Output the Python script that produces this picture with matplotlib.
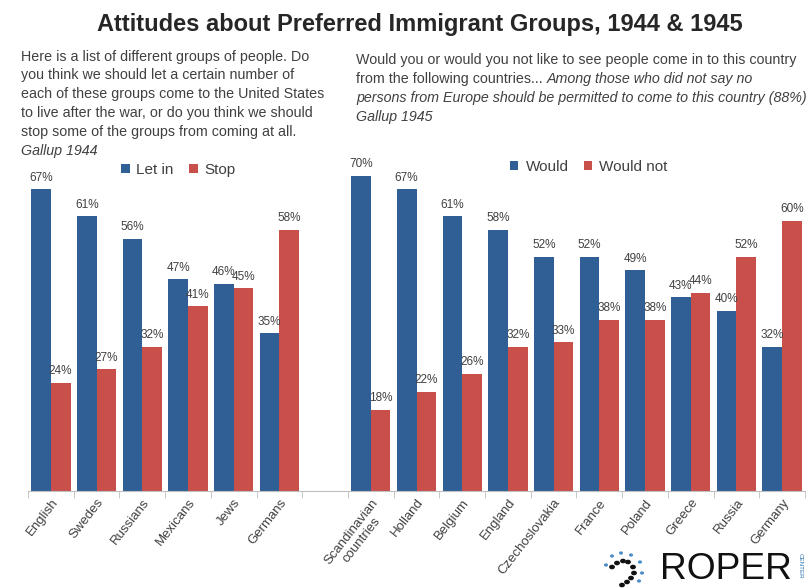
import matplotlib
matplotlib.use('Agg')
import matplotlib.pyplot as plt
import numpy as np
from matplotlib import font_manager
from matplotlib.patches import Circle

# ---------------- data ----------------
left_cats = ["English", "Swedes", "Russians", "Mexicans", "Jews", "Germans"]
left_letin = [67, 61, 56, 47, 46, 35]
left_stop = [24, 27, 32, 41, 45, 58]

right_cats = ["Scandinavian\ncountries", "Holland", "Belgium", "England", "Czechoslovakia",
              "France", "Poland", "Greece", "Russia", "Germany"]
right_would = [70, 67, 61, 58, 52, 52, 49, 43, 40, 32]
right_wouldnot = [18, 22, 26, 32, 33, 38, 38, 44, 52, 60]

title = "Attitudes about Preferred Immigrant Groups, 1944 & 1945"
left_text = ["Here is a list of different groups of people. Do",
             "you think we should let a certain number of",
             "each of these groups come to the United States",
             "to live after the war, or do you think we should",
             "stop some of the groups from coming at all."]
left_src = "Gallup 1944"
right_l1 = "Would you or would you not like to see people come in to this country"
right_l2a = "from the following countries... "
right_l2b = "Among those who did not say no"
right_l3 = "persons from Europe should be permitted to come to this country (88%)"
right_src = "Gallup 1945"

# ---------------- fonts ----------------
names = {f.name for f in font_manager.fontManager.ttflist}
narrow = 'Liberation Sans Narrow' if 'Liberation Sans Narrow' in names else 'Liberation Sans'
FAM = [narrow, 'DejaVu Sans']
plt.rcParams['font.family'] = FAM

W, H = 810, 588
fig = plt.figure(figsize=(8.1, 5.88), dpi=100)
fig.patch.set_facecolor('white')


def fx(x):
    return x / W


def fy(y):
    return 1 - y / H


BLUE = '#2F5F94'
RED = '#C9504A'
TXT = '#404040'

ax = fig.add_axes([fx(28), fy(491), fx(805) - fx(28), fy(160) - fy(491)])
n_left = len(left_cats)
xl = np.arange(n_left)
xr = np.arange(len(right_cats)) + n_left + 1
w = 0.43
b1 = ax.bar(xl - w / 2, left_letin, w, color=BLUE, label='Let in')
b2 = ax.bar(xl + w / 2, left_stop, w, color=RED, label='Stop')
b3 = ax.bar(xr - w / 2, right_would, w, color=BLUE, label='Would')
b4 = ax.bar(xr + w / 2, right_wouldnot, w, color=RED, label='Would not')
for cont in (b1, b2, b3, b4):
    for rect in cont:
        h = rect.get_height()
        ax.annotate(f"{h:.0f}%", (rect.get_x() + rect.get_width() / 2, h),
                    xytext=(0, 4), textcoords='offset points', ha='center',
                    va='bottom', fontsize=8.5, color=TXT)

ax.set_xlim(-0.5, n_left + len(right_cats) + 0.5)
ax.set_ylim(0, 73.5)
for s in ('left', 'right', 'top'):
    ax.spines[s].set_visible(False)
ax.spines['bottom'].set_color('#BFBFBF')
ax.set_yticks([])
ax.set_xticks(np.concatenate([xl, xr]))
ax.set_xticklabels(left_cats + right_cats, rotation=52, ha='right', va='top',
                   rotation_mode='anchor', fontsize=9.5, color=TXT)
for lab in ax.get_xticklabels():
    lab.set_multialignment('center')
ax.tick_params(axis='x', which='major', length=0, pad=4)
ax.set_xticks(np.arange(-0.5, n_left + len(right_cats) + 1, 1), minor=True)
ax.tick_params(axis='x', which='minor', length=5, color='#BFBFBF')

leg1 = ax.legend(handles=[b1, b2], loc='center', bbox_to_anchor=(fx(178), fy(170)),
                 bbox_transform=fig.transFigure, ncol=2, frameon=False, fontsize=11,
                 handlelength=0.6, handleheight=0.6, handletextpad=0.4,
                 columnspacing=1.0, labelcolor=TXT)
ax.add_artist(leg1)
ax.legend(handles=[b3, b4], loc='center', bbox_to_anchor=(fx(589), fy(167)),
          bbox_transform=fig.transFigure, ncol=2, frameon=False, fontsize=11,
          handlelength=0.5, handleheight=0.5, handletextpad=0.5,
          columnspacing=1.0, labelcolor=TXT)

# ---------------- texts ----------------
t_title = fig.text(fx(420), fy(25), title, ha='center', va='center',
                   fontsize=16, weight='bold', color='#262626')
left_ys = [57, 75.5, 94, 113, 132]
lt = []
for y, s in zip(left_ys, left_text):
    lt.append(fig.text(fx(21), fy(y), s, ha='left', va='center', fontsize=11, color=TXT))
lt.append(fig.text(fx(21), fy(151), left_src, ha='left', va='center', fontsize=11,
                   color=TXT, style='italic'))

r1 = fig.text(fx(356), fy(60), right_l1, ha='left', va='center', fontsize=11, color=TXT)
r2a = fig.text(fx(356), fy(79), right_l2a, ha='left', va='center', fontsize=11, color=TXT)
r2b = fig.text(fx(356), fy(79), right_l2b, ha='left', va='center', fontsize=11, color=TXT,
               style='italic')
r3 = fig.text(fx(356), fy(98), right_l3, ha='left', va='center', fontsize=11, color=TXT,
              style='italic')
r4 = fig.text(fx(356), fy(117), right_src, ha='left', va='center', fontsize=11, color=TXT,
              style='italic')

# logo
logo = fig.text(fx(660), fy(587), "ROPER", ha='left', va='bottom', fontsize=40,
                color='#111111')
fig.text(fx(800), fy(566), "CENTER", ha='center', va='center', fontsize=4.5,
         color='#2E75B6', rotation=-90)
dots = [(612, 567), (617, 563), (623, 561), (628, 562), (633, 567), (634, 573),
        (631, 578), (627, 582), (622, 585)]
for (px, py) in dots:
    fig.add_artist(Circle((fx(px), fy(py)), 2.2 / W, transform=fig.transFigure,
                          color='#111111'))
rays = [(606, 565), (612, 556), (621, 553), (631, 555), (640, 562), (642, 573), (639, 581)]
for (px, py) in rays:
    fig.add_artist(Circle((fx(px), fy(py)), 1.3 / W, transform=fig.transFigure,
                          color='#4A8CC8'))

# ---------------- fit text widths ----------------
fig.canvas.draw()
rend = fig.canvas.get_renderer()


def width(t):
    return t.get_window_extent(renderer=rend).width


t_title.set_fontsize(t_title.get_fontsize() * 644 / width(t_title))
fs = lt[2].get_fontsize() * 301 / width(lt[2])
for t in lt + [r1, r2a, r2b, r3, r4]:
    t.set_fontsize(fs)
logo.set_fontsize(logo.get_fontsize() * 132 / width(logo))
fig.canvas.draw()
r2b.set_x(fx(356 + width(r2a)))

fig.savefig('out.png', dpi=100, facecolor='white')
